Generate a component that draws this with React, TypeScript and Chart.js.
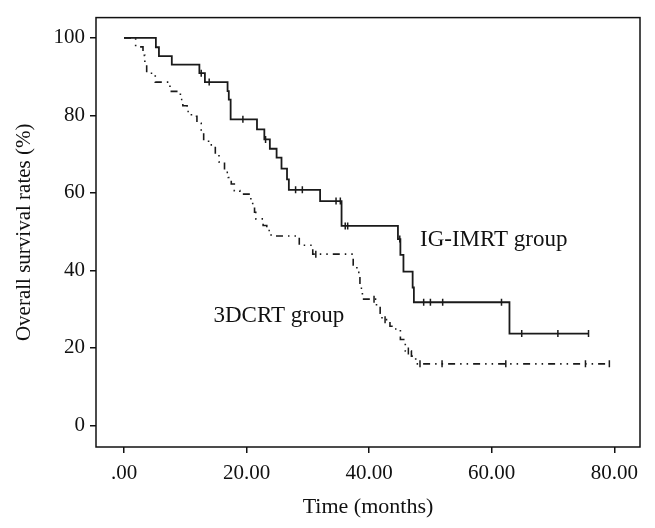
import React, { useEffect, useRef } from "react";
import { Chart, registerables } from "chart.js";

Chart.register(...registerables);

// IG-IMRT group: event times (months) and survival (%) after each drop
const imrtTimes = [0, 5.2, 5.7, 7.8, 12.3, 13.2, 16.9, 17.1, 17.4, 21.7, 22.9, 23.8, 24.9, 25.7, 26.6, 26.9, 32.0, 35.5, 44.7, 45.1, 45.6, 47.1, 47.3, 62.9];
const imrtSurv = [100, 97.6, 95.3, 93.1, 90.9, 88.6, 86.3, 84.1, 79.0, 76.4, 73.8, 71.4, 69.1, 66.3, 63.5, 60.8, 57.9, 51.5, 48.1, 44.0, 39.7, 35.6, 31.8, 23.7];
const imrtCensor = [12.6, 13.9, 19.4, 23.1, 28.0, 29.1, 34.6, 35.3, 36.1, 36.5, 45.0, 48.9, 50.0, 52.0, 61.6, 64.9, 70.8, 75.8];

// 3DCRT group
const crtTimes = [0, 1.9, 3.1, 3.4, 3.7, 5.1, 7.5, 9.2, 9.6, 10.3, 11.0, 11.9, 12.6, 13.0, 13.8, 14.9, 15.5, 16.4, 17.0, 17.5, 18.0, 18.9, 20.7, 21.0, 21.3, 21.5, 22.7, 23.3, 24.0, 28.6, 30.8, 37.4, 38.0, 38.5, 38.9, 41.2, 41.8, 42.1, 43.4, 44.0, 45.1, 45.9, 46.9, 47.6];
const crtSurv = [100, 97.7, 95.5, 93.2, 90.9, 88.6, 86.2, 84.1, 82.5, 81.0, 79.8, 78.0, 75.8, 73.8, 72.4, 69.6, 68.0, 65.3, 64.0, 62.3, 60.6, 59.7, 57.6, 56.3, 55.0, 53.3, 51.6, 50.3, 48.9, 46.5, 44.2, 41.4, 39.5, 35.4, 32.6, 30.7, 29.0, 27.3, 25.6, 24.9, 22.2, 19.2, 17.9, 15.9];
const crtCensor = [31.3, 40.8, 42.6, 46.4, 48.3, 51.9, 62.3, 75.3, 79.2];

const xTickValues = [0, 20, 40, 60, 80];
const xTickLabels = [".00", "20.00", "40.00", "60.00", "80.00"];
const yTickValues = [0, 20, 40, 60, 80, 100];
const yTickLabels = ["0", "20", "40", "60", "80", "100"];

const groupLabels = ["IG-IMRT group", "3DCRT group"];
const groupLabelX = [48.3, 14.6];
const groupLabelY = [46.35, 26.6];

const FONT = "'Liberation Serif', 'Times New Roman', serif";

function survivalAt(times: number[], surv: number[], t: number) {
  let v = surv[0];
  for (let i = 0; i < times.length; i++) if (times[i] <= t) v = surv[i];
  return v;
}

function buildSeries(times: number[], surv: number[], censor: number[]) {
  const pts: { x: number; y: number; c: boolean }[] = [];
  times.forEach((t, i) => pts.push({ x: t, y: surv[i], c: false }));
  censor.forEach((t) => pts.push({ x: t, y: survivalAt(times, surv, t), c: true }));
  pts.sort((a, b) => a.x - b.x);
  return pts;
}

const boxPlugin = {
  id: "boxAndLabels",
  afterDatasetsDraw(chart: any) {
    const { ctx, chartArea, scales } = chart;
    ctx.save();
    ctx.strokeStyle = "#111";
    ctx.lineWidth = 1.5;
    ctx.strokeRect(chartArea.left, chartArea.top, chartArea.right - chartArea.left, chartArea.bottom - chartArea.top);
    ctx.fillStyle = "#111";
    ctx.font = `23px ${FONT}`;
    ctx.textAlign = "left";
    ctx.textBaseline = "alphabetic";
    groupLabels.forEach((s, i) => {
      ctx.fillText(s, scales.x.getPixelForValue(groupLabelX[i]), scales.y.getPixelForValue(groupLabelY[i]));
    });
    ctx.restore();
  },
};

export default function App() {
  const ref = useRef<HTMLCanvasElement | null>(null);
  useEffect(() => {
    document.body.style.margin = "0";
    const canvas = ref.current!;
    const imrt = buildSeries(imrtTimes, imrtSurv, imrtCensor);
    const crt = buildSeries(crtTimes, crtSurv, crtCensor);
    const mk = (pts: any[], dash: number[], width: number) => ({
      data: pts.map((p) => ({ x: p.x, y: p.y })),
      stepped: "before" as const,
      borderColor: "#1a1a1a",
      borderWidth: width,
      borderDash: dash,
      borderCapStyle: "butt" as const,
      fill: false,
      tension: 0,
      pointStyle: "line" as const,
      rotation: 90,
      pointRadius: pts.map((p) => (p.c ? 3.5 : 0)),
      pointHoverRadius: 0,
      pointBorderColor: "#1a1a1a",
      pointBorderWidth: 1.5,
    });
    const chart = new Chart(canvas, {
      type: "line",
      data: {
        datasets: [mk(imrt, [], 1.8), mk(crt, [7, 5, 1.5, 5, 1.5, 5], 1.6)],
      },
      options: {
        animation: false,
        responsive: false,
        devicePixelRatio: 1,
        layout: { padding: { top: 14, right: 15, left: 0, bottom: 0 } },
        plugins: { legend: { display: false }, tooltip: { enabled: false } },
        scales: {
          x: {
            type: "linear",
            min: -4.57,
            max: 84.2,
            afterFit: (s: any) => {
              s.height = 81;
            },
            afterBuildTicks: (s: any) => {
              s.ticks = xTickValues.map((v) => ({ value: v }));
            },
            ticks: {
              color: "#111",
              font: { family: FONT, size: 21 },
              padding: 8,
              maxRotation: 0,
              callback: (v: any) => {
                const i = xTickValues.indexOf(Number(v));
                return i >= 0 ? xTickLabels[i] : "";
              },
            },
            grid: { drawOnChartArea: false, drawTicks: true, tickLength: 6, color: "#111", lineWidth: 1.5 },
            border: { display: false },
            title: {
              display: true,
              text: "Time (months)",
              color: "#111",
              font: { family: FONT, size: 22 },
              padding: { top: 0, bottom: 8 },
            },
          },
          y: {
            type: "linear",
            min: -5.56,
            max: 105.25,
            afterFit: (s: any) => {
              s.width = 96;
            },
            afterBuildTicks: (s: any) => {
              s.ticks = yTickValues.map((v) => ({ value: v }));
            },
            ticks: {
              color: "#111",
              font: { family: FONT, size: 21 },
              padding: 5,
              callback: (v: any) => {
                const i = yTickValues.indexOf(Number(v));
                return i >= 0 ? yTickLabels[i] : "";
              },
            },
            grid: { drawOnChartArea: false, drawTicks: true, tickLength: 6, color: "#111", lineWidth: 1.5 },
            border: { display: false },
            title: {
              display: true,
              text: "Overall survival rates (%)",
              color: "#111",
              font: { family: FONT, size: 21 },
              padding: { top: 12, bottom: 0 },
            },
          },
        },
      },
      plugins: [boxPlugin],
    });
    return () => chart.destroy();
  }, []);
  return <canvas ref={ref} width={655} height={528} style={{ display: "block" }} />;
}
